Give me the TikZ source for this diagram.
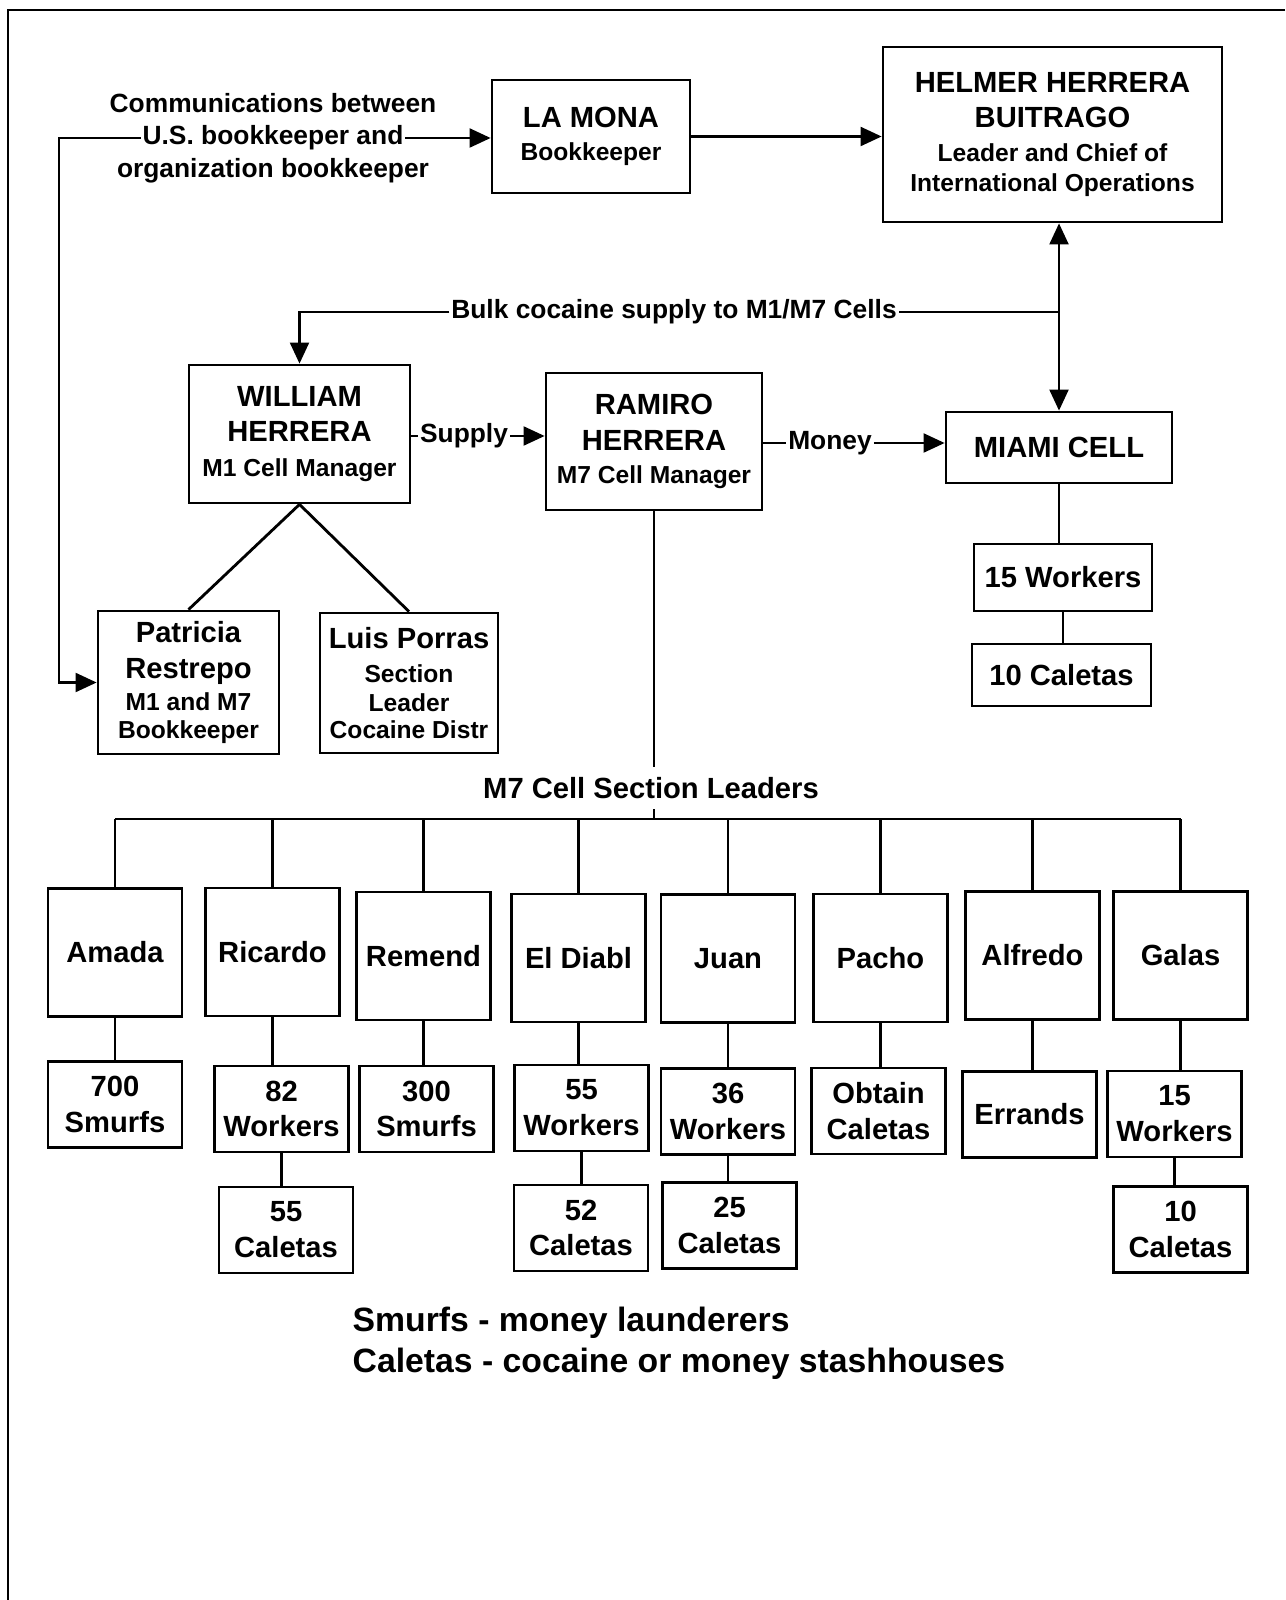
\documentclass[tikz,border=0pt]{standalone}
\usepackage{fontspec}
\setmainfont{Liberation Sans}
\usetikzlibrary{arrows.meta}
\newcommand{\bigtxt}{\fontsize{8.3}{10.2}\selectfont\bfseries}
\newcommand{\smalltxt}{\fontsize{7}{8.5}\selectfont\bfseries}
\newcommand{\lbltxt}{\fontsize{7.5}{9.4}\selectfont\bfseries}
\newcommand{\legendtxt}{\fontsize{9.6}{11.7}\selectfont\bfseries}
\begin{document}
\begin{tikzpicture}[scale=1.0,
    >={Triangle[length=2.1mm,width=1.9mm]},
    box/.style={draw, line width=0.8pt, align=center, inner sep=0pt, font=\bigtxt},
    leader/.style={box, minimum width=1.34cm, minimum height=1.28cm},
    count/.style={box, minimum width=1.34cm, minimum height=0.86cm},
    conn/.style={line width=0.6pt},
    lbl/.style={font=\lbltxt, inner xsep=0.4pt, inner ysep=0pt, text height=2mm, text depth=0.6mm}]
    \useasboundingbox (0,0) rectangle (12.85,-16);
    \draw[line width=0.8pt] (12.85,-0.10) -- (0.08,-0.10) -- (0.08,-16);

    \node[box, minimum width=1.98cm, minimum height=1.13cm] (lamona) at (5.91,-1.365) {LA MONA\\[-0.6pt]{\smalltxt Bookkeeper}};
    \node[box, minimum width=3.39cm, minimum height=1.75cm] (helmer) at (10.525,-1.345) {HELMER HERRERA\\[-0.3pt]BUITRAGO\\[-0.6pt]{\smalltxt Leader and Chief of}\\[-1.7pt]{\smalltxt International Operations}};
    \node[box, minimum width=2.21cm, minimum height=1.38cm] (william) at (2.995,-4.34) {WILLIAM\\HERRERA\\[-0.3pt]{\smalltxt M1 Cell Manager}};
    \node[box, minimum width=2.16cm, minimum height=1.37cm] (ramiro) at (6.54,-4.415) {RAMIRO\\HERRERA\\[-0.6pt]{\smalltxt M7 Cell Manager}};
    \node[box, minimum width=2.26cm, minimum height=0.71cm] (miami) at (10.59,-4.475) {MIAMI CELL};
    \node[box, minimum width=1.78cm, minimum height=0.67cm] (miamiW) at (10.63,-5.775) {15 Workers};
    \node[box, minimum width=1.79cm, minimum height=0.62cm] (miamiC) at (10.615,-6.75) {10 Caletas};
    \node[box, minimum width=1.81cm, minimum height=1.43cm] (patricia) at (1.885,-6.825) {Patricia\\Restrepo\\[-1.1pt]{\smalltxt M1 and M7}\\[-2pt]{\smalltxt Bookkeeper}};
    \node[box, minimum width=1.78cm, minimum height=1.40cm] (luis) at (4.09,-6.83) {Luis Porras\\[-0.3pt]{\smalltxt Section}\\[-2pt]{\smalltxt Leader}\\[-2.5pt]{\smalltxt Cocaine Distr}};

    \node[lbl, label={[lbl, label distance=0.5mm]above:Communications between}, label={[lbl, label distance=0.5mm]below:organization bookkeeper}] (comm) at (2.73,-1.38) {U.S. bookkeeper and};
    \coordinate (commcorner) at (0.59,-1.38);
    \draw[conn,->] (comm.east) -- (comm.east -| lamona.west);
    \draw[conn,->] (comm.west) -- (commcorner) |- (patricia.west);
    \draw[conn,->] (lamona.east) -- (lamona.east -| helmer.west);

    \node[lbl] (bulk) at (6.74,-3.12) {Bulk cocaine supply to M1/M7 Cells};
    \draw[conn,<->] (miami.north) -- (miami.north |- helmer.south);
    \draw[conn] (miami.north |- bulk) -- (bulk.east);
    \draw[conn,->] (bulk.west) -| (william.north);

    \node[lbl] (supply) at (4.64,-4.36) {Supply};
    \draw[conn] (william.east |- supply) -- (supply.west);
    \draw[conn,->] (supply.east) -- (supply.east -| ramiro.west);
    \node[lbl] (money) at (8.30,-4.43) {Money};
    \draw[conn] (ramiro.east |- money) -- (money.west);
    \draw[conn,->] (money.east) -- (money.east -| miami.west);

    \draw[line width=0.8pt] (william.south) -- (patricia.north);
    \draw[line width=0.8pt] (william.south) -- (luis.north);
    \draw[conn] (miami.south) -- (miami.south |- miamiW.north);
    \draw[conn] (miamiW.south) -- (miamiW.south |- miamiC.north);

    \node[leader] (amada) at (1.15,-9.525) {Amada};
    \node[leader] (ricardo) at (2.725,-9.52) {Ricardo};
    \node[leader] (remend) at (4.235,-9.56) {Remend};
    \node[leader] (eldiabl) at (5.785,-9.58) {El Diabl};
    \node[leader] (juan) at (7.28,-9.585) {Juan};
    \node[leader] (pacho) at (8.805,-9.58) {Pacho};
    \node[leader] (alfredo) at (10.325,-9.555) {Alfredo};
    \node[leader] (galas) at (11.805,-9.555) {Galas};

    \node[count] (amadaA) at (1.15,-11.045) {700\\Smurfs};
    \node[count] (ricardoA) at (2.815,-11.09) {82\\Workers};
    \node[count] (ricardoB) at (2.86,-12.30) {55\\Caletas};
    \node[count] (remendA) at (4.265,-11.09) {300\\Smurfs};
    \node[count] (eldiablA) at (5.815,-11.08) {55\\Workers};
    \node[count] (eldiablB) at (5.81,-12.28) {52\\Caletas};
    \node[count] (juanA) at (7.28,-11.115) {36\\Workers};
    \node[count] (juanB) at (7.295,-12.255) {25\\Caletas};
    \node[count] (pachoA) at (8.785,-11.11) {Obtain\\Caletas};
    \node[count] (alfredoA) at (10.295,-11.145) {Errands};
    \node[count] (galasA) at (11.745,-11.14) {15\\Workers};
    \node[count] (galasB) at (11.805,-12.295) {10\\Caletas};

    \coordinate (bus) at (6.53,-8.19);
    \node[font=\bigtxt, inner xsep=1pt, inner ysep=1mm] (m7lbl) at (6.51,-7.88) {M7 Cell Section Leaders};
    \draw[conn] (ramiro.south) -- (ramiro.south |- m7lbl.north);
    \draw[conn] (ramiro.south |- m7lbl.south) -- (ramiro.south |- bus);
    \draw[conn] (amada.north |- bus) -- (galas.north |- bus);
    \draw[conn] (amada.north |- bus) -- (amada.north);
    \draw[conn] (ricardo.north |- bus) -- (ricardo.north);
    \draw[conn] (remend.north |- bus) -- (remend.north);
    \draw[conn] (eldiabl.north |- bus) -- (eldiabl.north);
    \draw[conn] (juan.north |- bus) -- (juan.north);
    \draw[conn] (pacho.north |- bus) -- (pacho.north);
    \draw[conn] (alfredo.north |- bus) -- (alfredo.north);
    \draw[conn] (galas.north |- bus) -- (galas.north);

    \draw[conn] (amada.south) -- (amada.south |- amadaA.north);
    \draw[conn] (ricardo.south) -- (ricardo.south |- ricardoA.north);
    \draw[conn] (ricardoA.south) -- (ricardoA.south |- ricardoB.north);
    \draw[conn] (remend.south) -- (remend.south |- remendA.north);
    \draw[conn] (eldiabl.south) -- (eldiabl.south |- eldiablA.north);
    \draw[conn] (eldiablA.south) -- (eldiablA.south |- eldiablB.north);
    \draw[conn] (juan.south) -- (juan.south |- juanA.north);
    \draw[conn] (juanA.south) -- (juanA.south |- juanB.north);
    \draw[conn] (pacho.south) -- (pacho.south |- pachoA.north);
    \draw[conn] (alfredo.south) -- (alfredo.south |- alfredoA.north);
    \draw[conn] (galas.south) -- (galas.south |- galasA.north);
    \draw[conn] (galasA.south) -- (galasA.south |- galasB.north);

    \node[font=\legendtxt, align=left, anchor=west, inner sep=0pt] (legend) at (3.52,-13.43) {Smurfs - money launderers\\Caletas - cocaine or money stashhouses};
\end{tikzpicture}
\end{document}
